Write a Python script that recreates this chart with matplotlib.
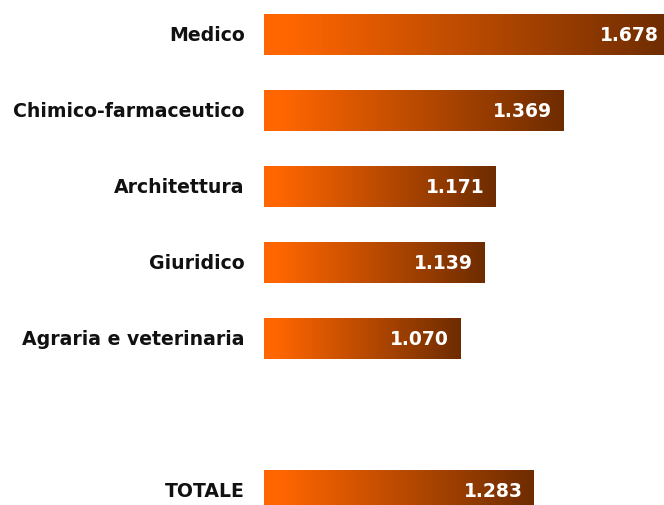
import numpy as np
import matplotlib
matplotlib.use("Agg")
import matplotlib.pyplot as plt
from matplotlib.colors import LinearSegmentedColormap

categories = ["Medico", "Chimico-farmaceutico", "Architettura", "Giuridico",
              "Agraria e veterinaria", "", "TOTALE"]
values = [1.678, 1.369, 1.171, 1.139, 1.070, None, 1.283]
value_labels = ["1.678", "1.369", "1.171", "1.139", "1.070", "", "1.283"]

W, H = 664, 506
fig = plt.figure(figsize=(W / 100, H / 100), dpi=100)
ax = fig.add_axes([264 / W, 0, 400 / W, 1])
ax.axis("off")

# orange-to-brown gradient painted along each bar
cmap = LinearSegmentedColormap.from_list(
    "orange_brown", [(0.0, "#FF6600"), (0.06, "#FF6600"), (1.0, "#6E2C00")])
grad = np.linspace(0, 1, 256).reshape(1, -1)

bar_h = 0.54
for i, (v, lab, txt) in enumerate(zip(values, categories, value_labels)):
    if v is not None:
        rect = ax.barh(i, v - 0.5, left=0.5, height=bar_h,
                       color="none", edgecolor="none")[0]
        im = ax.imshow(grad, cmap=cmap, aspect="auto",
                       extent=(0.5, v, i + bar_h / 2, i - bar_h / 2),
                       interpolation="bilinear", zorder=1)
        im.set_clip_path(rect)
        ax.annotate(txt, xy=(v, i), xytext=(-8, 0), textcoords="offset points",
                    ha="right", va="center", color="white",
                    fontsize=13.5, fontweight="bold", family="DejaVu Sans",
                    zorder=3, annotation_clip=False)
    if lab:
        ax.annotate(lab, xy=(0.5, i), xytext=(-14, 0), textcoords="offset points",
                    ha="right", va="center", color="#111111",
                    fontsize=13.6, fontweight="bold", family="DejaVu Sans",
                    annotation_clip=False)

ax.set_ylim(6.191, -0.467)
ax.set_xlim(0.5, 1.661)
fig.savefig("out.png", dpi=100)
